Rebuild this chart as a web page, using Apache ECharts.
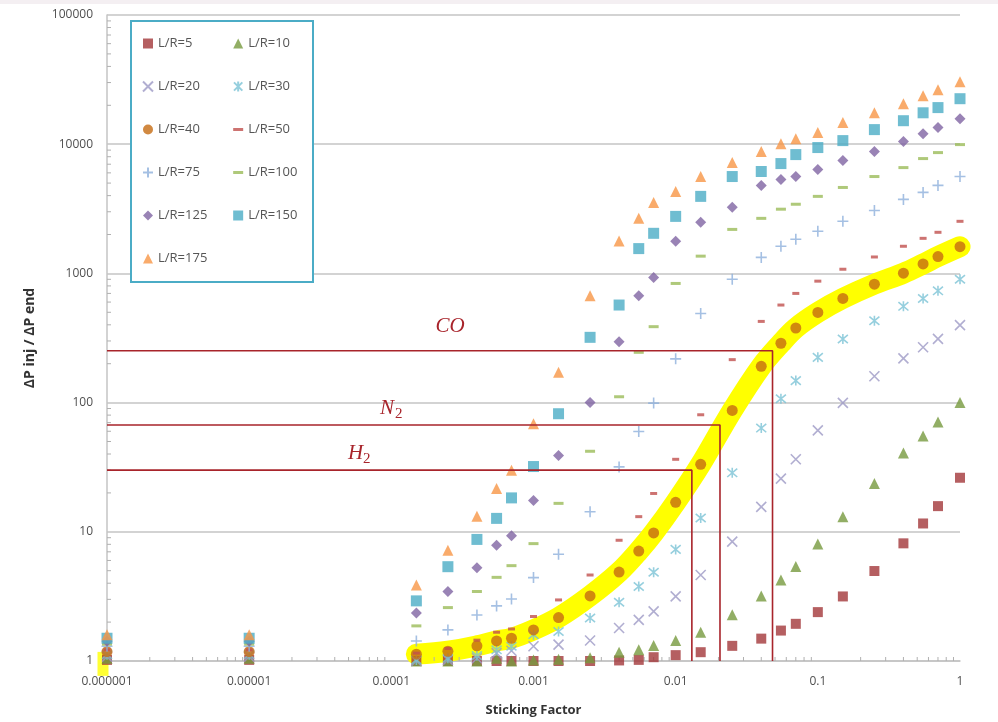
<!DOCTYPE html>
<html>
<head>
<meta charset="utf-8">
<script src="https://cdn.jsdelivr.net/npm/echarts@6/dist/echarts.min.js"></script>
<style>
  html, body { margin: 0; padding: 0; background: #ffffff; }
  #chart { width: 998px; height: 722px; }
</style>
</head>
<body>
<div id="chart"></div>
<script>
// Sticking factor sampled for every L/R case
const stickingFactor = [1e-6, 1e-5, 1.5e-4, 2.5e-4, 4e-4, 5.5e-4, 7e-4, 1e-3, 1.5e-3, 2.5e-3, 4e-3, 5.5e-3, 7e-3,
  1e-2, 1.5e-2, 2.5e-2, 4e-2, 5.5e-2, 7e-2, 0.1, 0.15, 0.25, 0.4, 0.55, 0.7, 1];

// Pressure-drop ratio ΔP inj / ΔP end for each L/R
const lr5   = [1.02, 1.02, 1.0, 1.0, 1.0, 1.0, 1.0, 1.0, 1.0, 1.0, 1.01, 1.02, 1.07, 1.11, 1.17, 1.31, 1.49, 1.72, 1.94, 2.39, 3.16, 4.97, 8.14, 11.6, 15.8, 26.2];
const lr10  = [1.05, 1.05, 1.0, 1.0, 1.0, 1.05, 1.0, 1.02, 1.03, 1.06, 1.17, 1.22, 1.32, 1.44, 1.67, 2.28, 3.19, 4.24, 5.38, 8.04, 13.1, 23.6, 40.8, 55.2, 70.7, 100];
const lr20  = [1.08, 1.08, 1.0, 1.02, 1.05, 1.15, 1.2, 1.3, 1.34, 1.44, 1.80, 2.08, 2.42, 3.16, 4.63, 8.39, 15.6, 25.8, 36.4, 60.9, 99.6, 160, 220, 268, 311, 398];
const lr30  = [1.12, 1.12, 1.02, 1.05, 1.1, 1.22, 1.3, 1.6, 1.69, 2.15, 2.85, 3.77, 4.86, 7.31, 12.8, 28.6, 63.5, 107, 148, 224, 311, 430, 556, 640, 733, 902];
const lr40  = [1.18, 1.18, 1.13, 1.19, 1.31, 1.43, 1.5, 1.74, 2.17, 3.19, 4.88, 7.1, 9.8, 16.9, 33.3, 86.9, 191, 288, 378, 499, 640, 826, 1004, 1183, 1350, 1610];
const lr50  = [1.22, 1.22, 1.15, 1.25, 1.45, 1.67, 1.77, 2.21, 2.97, 4.63, 8.6, 13.1, 19.8, 36.4, 80.5, 215, 425, 569, 700, 871, 1077, 1340, 1622, 1868, 2080, 2530];
const lr75  = [1.3, 1.3, 1.43, 1.74, 2.27, 2.67, 3.02, 4.42, 6.7, 14.3, 31.8, 59.8, 99.1, 218, 490, 902, 1330, 1622, 1840, 2118, 2530, 3070, 3740, 4235, 4800, 5620];
const lr100 = [1.35, 1.35, 1.87, 2.59, 3.45, 4.44, 5.47, 8.1, 16.6, 42, 111, 245, 387, 836, 1360, 2190, 2667, 3140, 3430, 3946, 4625, 5620, 6590, 7740, 8610, 9930];
const lr125 = [1.42, 1.42, 2.35, 3.45, 5.28, 7.88, 9.3, 17.5, 39, 100, 296, 671, 929, 1771, 2484, 3245, 4790, 5330, 5620, 6370, 7470, 8780, 10470, 12070, 13440, 15770];
const lr150 = [1.5, 1.5, 2.92, 5.37, 8.73, 12.7, 18.3, 32, 82, 320, 569, 1556, 2043, 2762, 3946, 5620, 6150, 7080, 8310, 9420, 10660, 12970, 15200, 17500, 19200, 22500];
const lr175 = [1.6, 1.6, 3.88, 7.2, 13.2, 21.6, 30, 68.6, 172, 670, 1782, 2667, 3540, 4306, 5620, 7210, 8780, 10100, 11040, 12300, 14700, 17500, 20600, 23700, 26400, 30400];

// Gas read-offs on the L/R=40 curve
const gasNames = ['CO', 'N', 'H'];
const gasSubscripts = ['', '2', '2'];
const gasStickingFactor = [0.048, 0.0205, 0.013];
const gasRatio = [252, 67, 30];

// Axis tick labels
const xTickLabels = ['0.000001', '0.00001', '0.0001', '0.001', '0.01', '0.1', '1'];
const yTickLabels = ['1', '10', '100', '1000', '10000', '100000'];

const seriesNames = ['L/R=5', 'L/R=10', 'L/R=20', 'L/R=30', 'L/R=40', 'L/R=50',
  'L/R=75', 'L/R=100', 'L/R=125', 'L/R=150', 'L/R=175'];
const seriesValues = [lr5, lr10, lr20, lr30, lr40, lr50, lr75, lr100, lr125, lr150, lr175];

// Marker styles
const PATH_X = 'path://M0,0L10,10M10,0L0,10';
const PATH_STAR = 'path://M0,0L10,10M10,0L0,10M5,-1L5,11';
const PATH_PLUS = 'path://M5,0L5,10M0,5L10,5';
const PATH_DASH = 'path://M0,0L10,0L10,3L0,3Z';
const markerStyles = [
  { symbol: 'rect', size: 10, color: '#a3373a' },
  { symbol: 'triangle', size: 11, color: '#779a3e' },
  { symbol: PATH_X, size: 10, stroke: '#9d9ac6' },
  { symbol: PATH_STAR, size: 10, stroke: '#7cc3d6' },
  { symbol: 'circle', size: 11, color: '#c56c12' },
  { symbol: 'rect', size: [7, 3], color: '#c0504d', legendIcon: PATH_DASH },
  { symbol: PATH_PLUS, size: 11, stroke: '#8fb0dc' },
  { symbol: 'rect', size: [10, 3], color: '#9bbb59', legendIcon: PATH_DASH },
  { symbol: 'diamond', size: 11, color: '#8064a2' },
  { symbol: 'rect', size: 11, color: '#4bacc6' },
  { symbol: 'triangle', size: 11, color: '#f79646' }
];

const pair = (xs, ys) => xs.map((x, i) => [x, ys[i]]);

const scatterSeries = seriesNames.map((name, i) => {
  const st = markerStyles[i];
  const itemStyle = st.stroke
    ? { color: 'rgba(0,0,0,0)', borderColor: st.stroke, borderWidth: 1.6 }
    : { color: st.color };
  return {
    name: name,
    type: 'scatter',
    data: pair(stickingFactor, seriesValues[i]),
    symbol: st.symbol,
    symbolSize: st.size,
    itemStyle: itemStyle,
    clip: false,
    z: 3,
    emphasis: { disabled: true }
  };
});

const legendItem = (name) => {
  const i = seriesNames.indexOf(name);
  const st = markerStyles[i];
  const item = { name: name };
  if (st.legendIcon) item.icon = st.legendIcon;
  return item;
};
const legendCol1 = ['L/R=5', 'L/R=20', 'L/R=40', 'L/R=75', 'L/R=125', 'L/R=175'];
const legendCol2 = ['L/R=10', 'L/R=30', 'L/R=50', 'L/R=100', 'L/R=150'];
const legendBase = {
  orient: 'vertical',
  top: 37,
  padding: 0,
  itemGap: 30,
  itemWidth: 10,
  itemHeight: 10,
  selectedMode: false,
  z: 20,
  textStyle: { fontFamily: 'Open Sans', fontSize: 13, color: '#555555' }
};

// Minor log ticks (2..9 within each decade)
const xMinor = [];
for (let e = -6; e < 0; e++) for (let m = 2; m <= 9; m++) xMinor.push(m * Math.pow(10, e));
const yMinor = [];
for (let e = 0; e < 5; e++) for (let m = 2; m <= 9; m++) yMinor.push(m * Math.pow(10, e));

const TICK = '#b0b0b0';
const RED = '#a8242b';

const gasLines = gasNames.map((g, i) => ({
  name: 'gas-' + i,
  type: 'line',
  data: [[stickingFactor[0], gasRatio[i]], [gasStickingFactor[i], gasRatio[i]], [gasStickingFactor[i], 1]],
  showSymbol: false,
  symbol: 'none',
  clip: false,
  lineStyle: { color: RED, width: 1.6 },
  z: 4,
  silent: true
}));

const chart = echarts.init(document.getElementById('chart'), null, { renderer: 'canvas' });

const option = {
  backgroundColor: '#ffffff',
  animation: false,
  grid: { left: 107, right: 38, top: 15, bottom: 59, containLabel: false },
  xAxis: {
    type: 'log',
    logBase: 10,
    min: 1e-6,
    max: 1,
    name: 'Sticking Factor',
    nameLocation: 'middle',
    nameGap: 43,
    nameTextStyle: { fontFamily: 'Open Sans', fontWeight: 'bold', fontSize: 13, color: '#333333' },
    axisLine: { lineStyle: { color: '#c4c4c4', width: 1.5 } },
    axisTick: { show: false },
    splitLine: { show: false },
    axisLabel: {
      margin: 15,
      fontFamily: 'Open Sans',
      fontSize: 12,
      color: '#4f4f4f',
      formatter: (v) => xTickLabels[Math.round(Math.log10(v)) + 6]
    }
  },
  yAxis: {
    type: 'log',
    logBase: 10,
    min: 1,
    max: 100000,
    name: 'ΔP inj / ΔP end',
    nameLocation: 'middle',
    nameGap: 70,
    nameTextStyle: { fontFamily: 'Open Sans', fontWeight: 'bold', fontSize: 14, color: '#333333' },
    axisLine: { show: true, lineStyle: { color: '#c4c4c4', width: 1.5 } },
    axisTick: { show: false },
    splitLine: { show: true, lineStyle: { color: '#c4c4c4', width: 1.5 } },
    axisLabel: {
      margin: 14,
      fontFamily: 'Open Sans',
      fontSize: 12,
      color: '#4f4f4f',
      formatter: (v) => yTickLabels[Math.round(Math.log10(v))]
    }
  },
  legend: [
    Object.assign({}, legendBase, { left: 142, data: legendCol1.map(legendItem) }),
    Object.assign({}, legendBase, { left: 233, data: legendCol2.map(legendItem) })
  ],
  series: [
    // hand-drawn style highlight along the L/R=40 curve
    {
      name: 'highlight',
      type: 'line',
      data: pair(stickingFactor.slice(2), lr40.slice(2)),
      smooth: 0.35,
      showSymbol: false,
      symbol: 'none',
      clip: false,
      lineStyle: { color: '#ffff00', width: 21, cap: 'round', join: 'round' },
      z: 1,
      silent: true
    },
    {
      name: 'highlight-start',
      type: 'scatter',
      data: [[stickingFactor[0], lr5[0]]],
      symbol: 'rect',
      symbolSize: [11, 24],
      symbolOffset: [-4, 4],
      itemStyle: { color: '#ffff00' },
      clip: false,
      z: 1,
      silent: true
    },
    {
      name: 'x-minor',
      type: 'custom',
      data: xMinor.map(v => [v, 1]),
      silent: true,
      clip: false,
      z: 2,
      renderItem: (params, api) => {
        const p = api.coord([api.value(0), 1]);
        return { type: 'line', shape: { x1: p[0], y1: p[1], x2: p[0], y2: p[1] - 4 }, style: { stroke: TICK, lineWidth: 1 } };
      }
    },
    {
      name: 'y-minor',
      type: 'custom',
      data: yMinor.map(v => [1e-6, v]),
      silent: true,
      clip: false,
      z: 2,
      renderItem: (params, api) => {
        const p = api.coord([1e-6, api.value(1)]);
        return { type: 'line', shape: { x1: p[0], y1: p[1], x2: p[0] + 4, y2: p[1] }, style: { stroke: TICK, lineWidth: 1 } };
      }
    }
  ].concat(gasLines, scatterSeries),
  graphic: [
    { type: 'rect', id: 'topband', left: 0, top: 0, shape: { width: 998, height: 4 }, style: { fill: '#f4eff2' }, z: 0 },
    { type: 'rect', id: 'legendbox', left: 130, top: 20, shape: { width: 182, height: 261 },
      style: { fill: '#ffffff', stroke: '#4bacc6', lineWidth: 2 }, z: 10 }
  ]
};

chart.setOption(option);

// Gas labels sit just above their read-off lines
const labelX = [450, 380, 348];
const labelLift = [24, 17, 17];
const gasGraphics = [];
gasNames.forEach((g, i) => {
  const p = chart.convertToPixel({ gridIndex: 0 }, [stickingFactor[0], gasRatio[i]]);
  const cy = p[1] - labelLift[i];
  const mainStyle = { text: g, fill: RED, font: 'italic 21px "Liberation Serif", "DejaVu Serif", serif' };
  if (gasSubscripts[i]) {
    gasGraphics.push({ type: 'text', id: 'gas-main-' + i, x: labelX[i], y: cy, z: 30,
      style: Object.assign({ align: 'left', verticalAlign: 'middle' }, mainStyle) });
    gasGraphics.push({ type: 'text', id: 'gas-sub-' + i, x: labelX[i] + 15, y: cy + 6, z: 30,
      style: { text: gasSubscripts[i], fill: RED, align: 'left', verticalAlign: 'middle',
        font: '15px "Liberation Serif", "DejaVu Serif", serif' } });
  } else {
    gasGraphics.push({ type: 'text', id: 'gas-main-' + i, x: labelX[i], y: cy, z: 30,
      style: Object.assign({ align: 'center', verticalAlign: 'middle' }, mainStyle) });
  }
});
chart.setOption({ graphic: gasGraphics });
</script>
</body>
</html>
